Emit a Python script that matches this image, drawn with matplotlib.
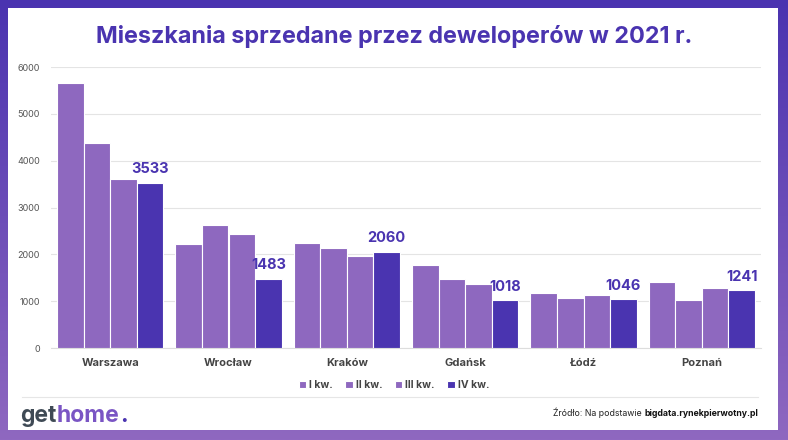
import numpy as np
import matplotlib.pyplot as plt
from matplotlib.patches import Rectangle
from matplotlib.colors import LinearSegmentedColormap

cities = ["Warszawa", "Wrocław", "Kraków", "Gdańsk", "Łódź", "Poznań"]
q1 = [5650, 2220, 2240, 1780, 1185, 1400]
q2 = [4370, 2630, 2140, 1470, 1065, 1015]
q3 = [3600, 2440, 1975, 1370, 1130, 1280]
q4 = [3533, 1483, 2060, 1018, 1046, 1241]
quarters = ["I kw.", "II kw.", "III kw.", "IV kw."]

light = "#8e68bf"
dark = "#4a34b0"
colors = [light, light, light, dark]

plt.rcParams['font.family'] = ['Inter', 'DejaVu Sans']

fig = plt.figure(figsize=(7.88, 4.40), dpi=100)

# purple gradient frame
bg = fig.add_axes([0, 0, 1, 1])
grad = np.linspace(0, 1, 256).reshape(-1, 1)
cmap = LinearSegmentedColormap.from_list("frame", ["#4a33b0", "#8f68c0"])
bg.imshow(grad, aspect="auto", cmap=cmap, extent=[0, 1, 0, 1], origin="upper")
bg.add_patch(Rectangle((8 / 788, 10 / 440), 770 / 788, 422 / 440,
                       facecolor="white", edgecolor="none"))
bg.set_xlim(0, 1)
bg.set_ylim(0, 1)
bg.axis("off")

ax = fig.add_axes([51 / 788, 1 - 348 / 440, 710 / 788, 281 / 440])
x = np.arange(len(cities))
w = 0.225
series = [q1, q2, q3, q4]
for i, vals in enumerate(series):
    ax.bar(x + (i - 1.5) * w, vals, width=w, color=colors[i],
           edgecolor="white", linewidth=0.8, label=quarters[i], zorder=3)

for xi, v in zip(x, q4):
    ax.text(xi + 1.5 * w, v + 130, str(v), ha="center", va="bottom",
            fontsize=10.5, fontweight="bold", color=dark)

ax.set_xlim(-0.5, len(cities) - 0.5)
ax.set_ylim(0, 6000)
ax.set_yticks(range(0, 6001, 1000))
ax.tick_params(axis="y", length=0, labelsize=6.5, labelcolor="#555555", pad=8)
ax.set_xticks(x)
ax.set_xticklabels(cities, fontsize=8, fontweight="bold", color="#444444")
ax.tick_params(axis="x", length=0, pad=7)
ax.grid(axis="y", color="#e4e4e4", linewidth=0.8, zorder=0)
for s in ["top", "right", "left"]:
    ax.spines[s].set_visible(False)
ax.spines["bottom"].set_color("#dddddd")

leg = fig.legend(loc="center", bbox_to_anchor=(394 / 788, 1 - 385 / 440),
                 ncol=4, frameon=False, handlelength=0.7,
                 handleheight=0.7, handletextpad=0.3, columnspacing=1.2,
                 prop={"weight": "bold", "size": 7.5})
for t in leg.get_texts():
    t.set_color("#444444")

fig.text(0.5, 1 - 37 / 440, "Mieszkania sprzedane przez deweloperów w 2021 r.",
         ha="center", va="center", fontsize=16.8, fontweight="bold", color=dark)

# separator line
bg.plot([22 / 788, 758 / 788], [1 - 397 / 440, 1 - 397 / 440],
        color="#e6e6e6", linewidth=0.8)

# logo
fig.canvas.draw()
r = fig.canvas.get_renderer()
xpos = 20 / 788
ylogo = 1 - 416 / 440
for part, col in [("get", "#3f4a55"), ("home", "#7a55c4"), (".", "#4a34b0")]:
    t = fig.text(xpos, ylogo, part, ha="left", va="center", fontsize=16.5,
                 fontweight="bold", color=col)
    bb = t.get_window_extent(renderer=r)
    xpos += bb.width / fig.bbox.width + 0.3 / fig.bbox.width

# source
tb = fig.text(758 / 788, 1 - 413 / 440, "bigdata.rynekpierwotny.pl", ha="right",
              va="center", fontsize=6.3, fontweight="bold", color="#111111")
bb = tb.get_window_extent(renderer=r)
fig.text(bb.x0 / fig.bbox.width, 1 - 413 / 440, "Źródło: Na podstawie ",
         ha="right", va="center", fontsize=6.3, color="#222222")

fig.savefig("out.png", dpi=100)
